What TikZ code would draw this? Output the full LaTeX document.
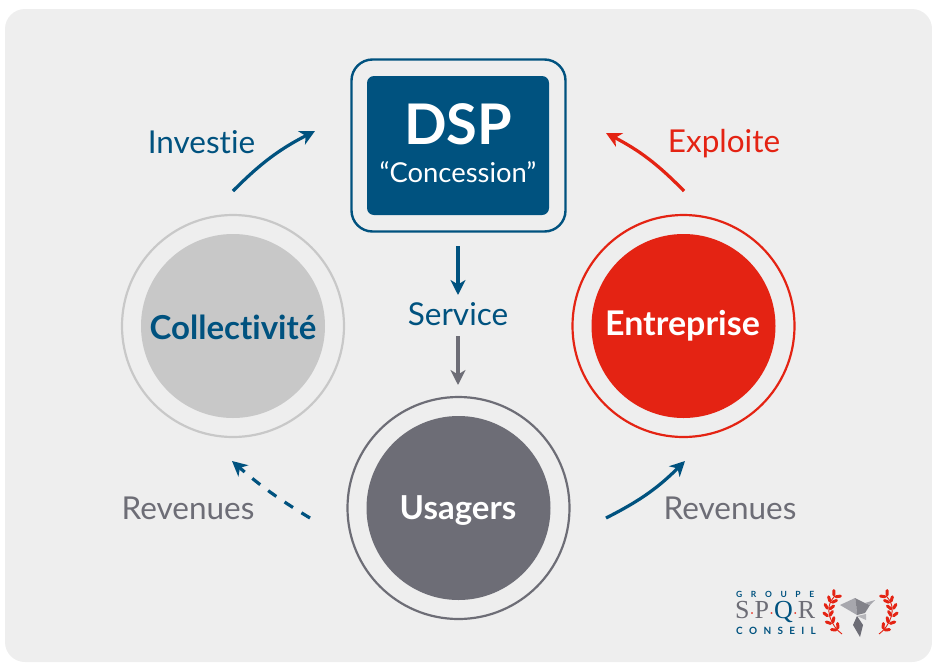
\documentclass[tikz,border=0pt]{standalone}
\usepackage{fontspec}
\setmainfont{Lato}[Ligatures=NoCommon]
\newfontfamily\serifL{Liberation Serif}
\usetikzlibrary{arrows.meta}
\definecolor{blueD}{HTML}{00527F}
\definecolor{greyD}{HTML}{6D6D76}
\definecolor{redD}{HTML}{E42313}
\definecolor{greyL}{HTML}{C8C8C8}
\definecolor{bgG}{HTML}{EEEEEE}
\tikzset{
  x=1pt,y=-1pt,
  disc/.style={circle,minimum size=184pt,inner sep=0pt},
  ring/.style={circle,minimum size=222pt,inner sep=0pt,line width=2.2pt,fill=none},
  flow/.style={line width=3.2pt,-{Stealth[length=15pt,width=15pt,inset=4.5pt]}},
  lab/.style={font=\fontsize{31.5}{34}\selectfont,inner sep=0pt},
  nameT/.style={font=\fontsize{33}{36}\selectfont\bfseries,inner sep=0pt},
  logoT/.style={inner sep=0pt,text=blueD},
  leafL/.style={draw=redD,line width=3pt,line cap=round},
}
\newcommand{\laurel}{%
  \draw[redD,line width=0.9pt] (842,634) .. controls (832,627) and (822,608) .. (835,596);
  \foreach \x/\y/\t in {838/630/-135,832.5/624/-120,829/617/-100,828.5/610/-80,830.5/603/-65,834/597/-50}{
    \draw[leafL] (\x,\y) ++(\t-42:2) -- ++(\t-42:4.5);
    \draw[leafL] (\x,\y) ++(\t+42:2) -- ++(\t+42:4.5);
  }
}
\begin{document}
\begin{tikzpicture}
\useasboundingbox (0,0) rectangle (932,662);
\fill[white] (0,0) rectangle (932,662);
\fill[bgG,rounded corners=20pt] (5,9) rectangle (932,662);
% DSP
\node[draw=blueD,line width=2.4pt,rounded corners=21pt,minimum width=214pt,minimum height=172pt,inner sep=0pt] (outer) at (458.5,145.5) {};
\node[fill=blueD,rounded corners=7pt,minimum width=182pt,minimum height=139pt,inner sep=0pt] (dsp) at (458,145.5) {};
\node[inner sep=0pt,text=white,font=\fontsize{56}{60}\selectfont\bfseries] (dspT) at (458,124) {DSP};
\node[inner sep=0pt,text=white,font=\fontsize{27.4}{30}\selectfont] (conc) at (458,172.5) {“Concession”};
% circles
\node[ring,draw=greyL] (colR) at (233,326) {};
\node[disc,fill=greyL] (col) at (233,326) {};
\node[nameT,text=blueD] (colT) at (233,327) {Collectivité};
\node[ring,draw=redD] (entR) at (683.5,326) {};
\node[disc,fill=redD] (ent) at (683.5,326) {};
\node[nameT,text=white,font=\fontsize{34}{36}\selectfont\bfseries] (entT) at (682.5,326) {Entreprise};
\node[ring,draw=greyD] (usaR) at (458.5,508) {};
\node[disc,fill=greyD] (usa) at (458.5,508) {};
\node[nameT,text=white] (usaT) at (458,511) {Usagers};
% labels
\node[lab,text=blueD] (inv) at (201.5,142) {Investie};
\node[lab,text=redD] (exp) at (724,144) {Exploite};
\node[lab,text=blueD] (ser) at (458,314) {Service};
\node[lab,text=greyD] (revL) at (188,508) {Revenues};
\node[lab,text=greyD] (revR) at (730,508) {Revenues};
% connectors
\coordinate (a1) at (233,191); \coordinate (a2) at (315,131);
\coordinate (b1) at (684,191); \coordinate (b2) at (606,133);
\coordinate (c1) at (310,518); \coordinate (c2) at (232,461);
\coordinate (d1) at (606,518); \coordinate (d2) at (685,461);
\coordinate (s1) at (458,246); \coordinate (s2) at (458,295);
\coordinate (t1) at (458,336); \coordinate (t2) at (458,385);
\draw[flow,draw=blueD] (a1) to[bend left=9] (a2);
\draw[flow,draw=redD] (b1) to[bend right=9] (b2);
\draw[flow,draw=blueD,dash pattern=on 10pt off 10pt] (c1) to[bend left=5] (c2);
\draw[flow,draw=blueD] (d1) to[bend right=9] (d2);
\draw[flow,draw=blueD] (s1) -- (s2);
\draw[flow,draw=greyD] (t1) -- (t2);
% logo
\node[logoT,font=\fontsize{8.5}{9}\selectfont\bfseries,anchor=west] (lg) at (736,594) {G\hspace{8.6pt}R\hspace{8.6pt}O\hspace{8.6pt}U\hspace{8.6pt}P\hspace{8.6pt}E};
\node[inner sep=0pt,anchor=west,font=\serifL\fontsize{26}{27}\selectfont,text=greyD] (lg2) at (735,612) {S\textcolor{redD}{\fontsize{15}{15}\selectfont·}P\textcolor{redD}{\fontsize{15}{15}\selectfont·}\textcolor{blueD}{Q}\textcolor{redD}{\fontsize{15}{15}\selectfont·}R};
\node[logoT,font=\fontsize{10}{11}\selectfont\bfseries,anchor=west] (lg3) at (736,631) {C\hspace{6.3pt}O\hspace{6.3pt}N\hspace{6.3pt}S\hspace{6.3pt}E\hspace{6.3pt}I\hspace{6.3pt}L};
% bird
\fill[greyD!60] (840,605) -- (855,598) -- (856,603) -- (857,615) -- cycle;
\fill[greyD!85] (855,598) -- (865,603) -- (870,605) -- (865,613) -- (857,615) -- (856,603) -- cycle;
\fill[greyD!60] (865,603) -- (875,600) -- (870,605) -- cycle;
\fill[greyD!50] (857,616) -- (866,614) -- (866,620) -- cycle;
\fill[greyD] (853,625) -- (857,616) -- (863,625) -- (860,637) -- cycle;
% laurels
\laurel
\begin{scope}[shift={(1721,0)},xscale=-1]
\laurel
\end{scope}
\end{tikzpicture}
\end{document}
